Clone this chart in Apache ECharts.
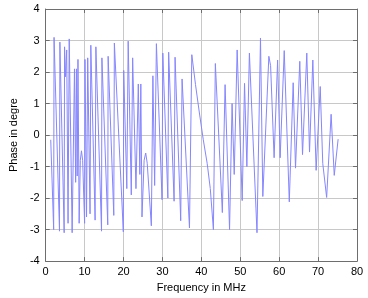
<!DOCTYPE html>
<html>
<head>
<meta charset="utf-8">
<script src="https://cdn.jsdelivr.net/npm/echarts@6/dist/echarts.min.js"></script>
<style>
  html, body { margin: 0; padding: 0; background: #fff; }
  #chart { width: 368px; height: 298px; }
</style>
</head>
<body>
<div id="chart"></div>
<script>
// frequency (MHz) and wrapped phase
const freq = [
  1.3, 2.05, 2.15, 3.55, 3.65, 4.75, 4.85, 5.1, 5.4, 5.75, 6.05, 6.8, 7.4, 7.7, 7.9, 8.1, 8.3, 8.6,
  8.9, 9.2, 9.5, 10.0, 10.1, 10.5, 10.8, 11.4, 11.6, 12.7, 12.9, 14.35, 14.45, 15.95, 16.05, 17.5,
  17.65, 19.95, 20.05, 20.85, 21.2, 22.0, 22.35, 23.2, 23.8, 24.2, 24.45, 24.75, 25.3, 25.7, 26.1,
  27.15, 27.55, 28.0, 28.45, 29.9, 30.1, 31.4, 31.6, 33.0, 33.25, 34.7, 35.05, 36.95, 37.55, 38.5,
  39.5, 40.5, 41.5, 42.3, 43.1, 43.6, 45.4, 46.1, 47.25, 47.9, 48.45, 49.2, 50.5, 51.1, 51.7, 52.35,
  54.3, 55.2, 55.8, 57.35, 57.8, 58.7, 59.6, 60.25, 61.3, 62.6, 63.6, 64.2, 65.3, 66.0, 67.1, 67.8,
  68.65, 69.5, 70.55, 71.2, 72.2, 73.35, 74.15, 75.15
];
const phase = [
  -0.15, -3.0, 3.1, -3.05, 2.95, -3.1, 2.8, 1.85, 2.7, -2.8, 3.05, -3.1, 2.1, -1.5, 2.1, -1.3, 2.4, -2.8,
  -0.8, -0.5, -0.8, -2.8, 2.4, -2.6, 2.45, -2.5, 2.85, -2.7, 2.8, -3.05, 2.45, -2.85, 2.5, -2.55,
  2.92, -3.07, 2.05, -1.7, 2.98, -1.9, 2.45, -1.7, 1.62, -1.25, 1.62, -2.6, -0.8, -0.57, -0.9,
  -2.88, 1.88, -1.6, 2.9, -2.05, 2.6, -2.0, 2.63, -2.1, 2.47, -2.72, 1.78, -2.95, 2.55, 1.6,
  0.7, -0.15, -0.9, -1.7, -3.0, 2.27, -2.46, 1.6, -3.0, 1.0, -1.25, 2.7, -2.08, 1.64, -1.0, 2.6,
  -3.1, 3.08, -1.95, 2.5, 2.2, -0.72, 2.38, -0.72, 2.68, -2.12, 1.66, -1.05, 2.34, -0.62, 2.6, -0.54,
  2.38, -1.12, 1.54, -0.9, -1.98, 0.66, -1.28, -0.13
];
const xTicks = { min: 0, max: 80, step: 10 };
const yTicks = { min: -4, max: 4, step: 1 };

const chart = echarts.init(document.getElementById('chart'), null, { renderer: 'canvas' });

const font = 'Liberation Sans, Arial, sans-serif';
const axisLine = { show: true, onZero: false, lineStyle: { color: '#6e6e6e', width: 1 } };
const gridLine = { show: true, lineStyle: { color: '#c8c8c8', width: 1 } };

function xAxisOf(pos, labels) {
  return {
    type: 'value', position: pos, min: xTicks.min, max: xTicks.max, interval: xTicks.step,
    axisLine: axisLine,
    axisTick: { show: true, inside: true, length: 4, lineStyle: { color: '#6e6e6e' } },
    axisLabel: { show: labels, color: '#000', fontSize: 11, fontFamily: font, margin: 5 },
    splitLine: labels ? gridLine : { show: false },
    name: labels ? 'Frequency in MHz' : '', nameLocation: 'middle', nameGap: 18,
    nameTextStyle: { color: '#000', fontSize: 11, fontFamily: font }
  };
}
function yAxisOf(pos, labels) {
  return {
    type: 'value', position: pos, min: yTicks.min, max: yTicks.max, interval: yTicks.step,
    axisLine: axisLine,
    axisTick: { show: true, inside: true, length: 4, lineStyle: { color: '#6e6e6e' } },
    axisLabel: { show: labels, color: '#000', fontSize: 11, fontFamily: font, margin: 6 },
    splitLine: labels ? gridLine : { show: false },
    name: labels ? 'Phase in degre' : '', nameLocation: 'middle', nameGap: 19,
    nameTextStyle: { color: '#000', fontSize: 11, fontFamily: font }
  };
}

const option = {
  animation: false,
  backgroundColor: '#fff',
  grid: { left: 32, right: 11, top: 9, bottom: 30 },
  xAxis: [xAxisOf('bottom', true), xAxisOf('top', false)],
  yAxis: [yAxisOf('left', true), yAxisOf('right', false)],
  series: [{
    type: 'line',
    data: freq.map((f, i) => [f, phase[i]]),
    showSymbol: false,
    lineStyle: { color: '#8686ff', width: 1 }
  }]
};
chart.setOption(option);
</script>
</body>
</html>
